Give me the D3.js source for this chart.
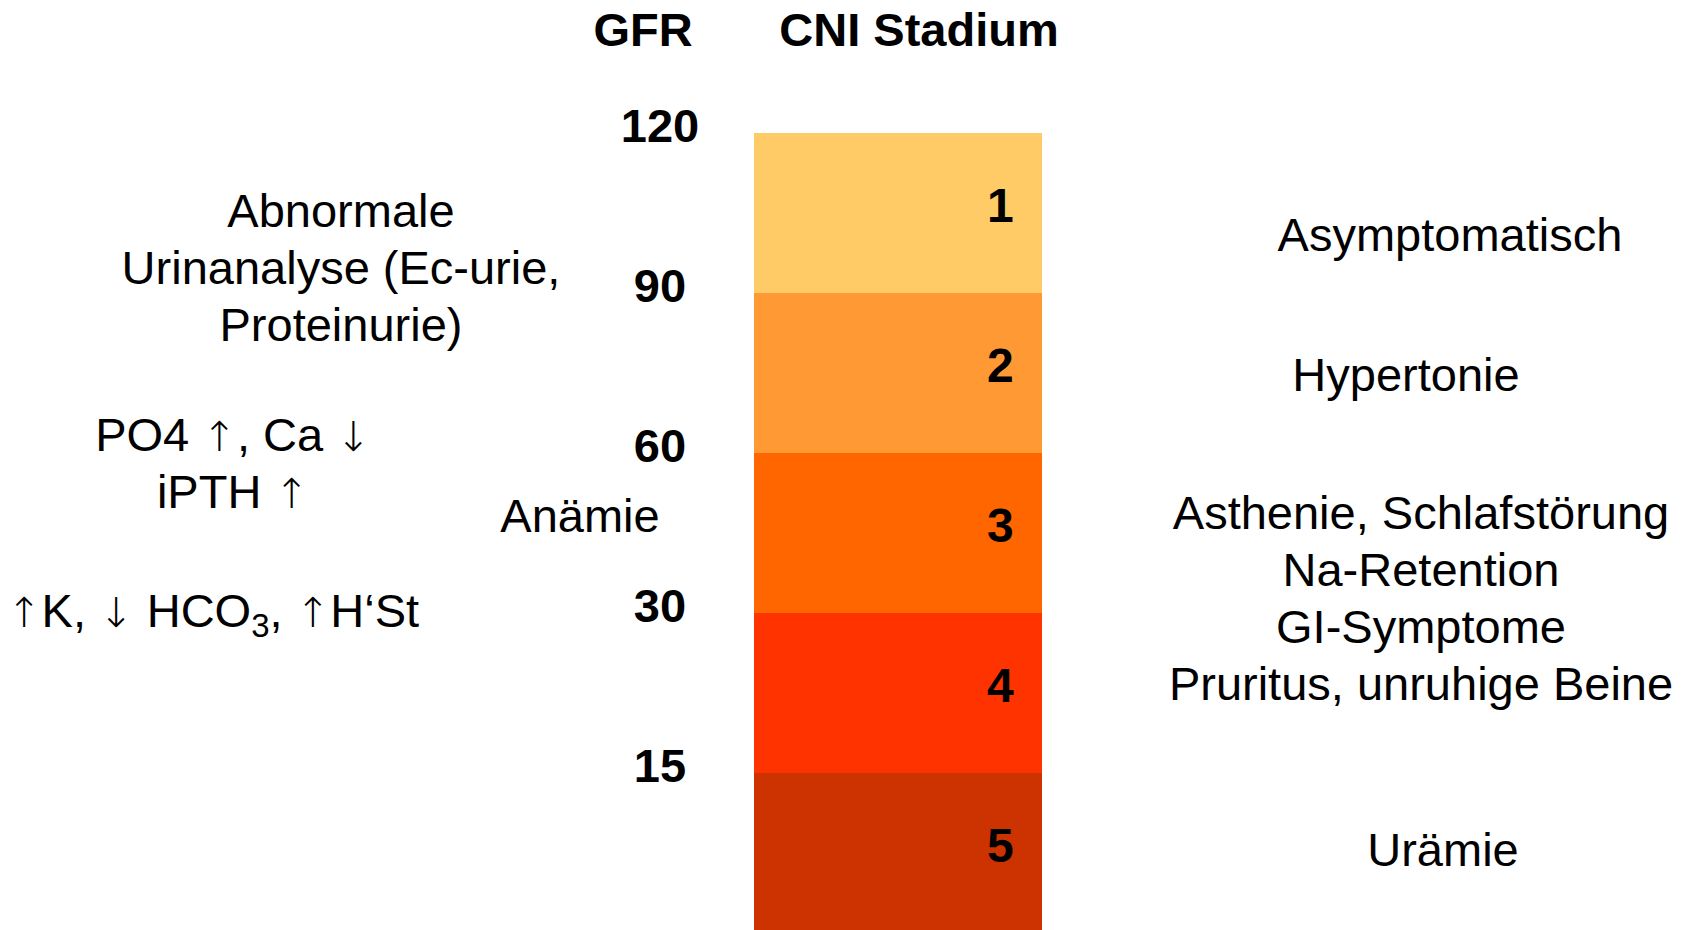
<!DOCTYPE html>
<html>
<head>
<meta charset="utf-8">
<script src="https://cdn.jsdelivr.net/npm/d3@7"></script>
<style>
  html, body { margin: 0; padding: 0; background: #fff; }
  svg { display: block; }
  text { font-family: "Liberation Sans", Arial, Helvetica, sans-serif; fill: #000; }
  tspan.arrow { font-family: "DejaVu Sans", sans-serif; font-weight: 200; }
</style>
</head>
<body>
<script>
// CKD stages (CNI Stadium) with their GFR thresholds and typical findings
const stages = [1, 2, 3, 4, 5];
const gfrTicks = ["120", "90", "60", "30", "15"];
const stageColors = ["#FECB66", "#FF9933", "#FF6600", "#FF3300", "#CC3300"];

// clinical picture shown to the right of the column
const symptomsAsym = ["Asymptomatisch"];
const symptomsHyp = ["Hypertonie"];
const symptomsLate = ["Asthenie, Schlafstörung", "Na-Retention", "GI-Symptome", "Pruritus, unruhige Beine"];
const symptomsUr = ["Urämie"];

// laboratory findings to the left of the column
const labUrine = ["Abnormale", "Urinanalyse (Ec-urie,", "Proteinurie)"];
const labMineral = ["PO4 ↑, Ca ↓", "iPTH ↑"];
const labAnemia = ["Anämie"];
const labAcid = ["↑K, ↓ HCO", "3", ", ↑H‘St"];

const W = 1696, H = 930;
const FS = 47;      // font size
const LH = 57;      // line height

const svg = d3.select("body").append("svg")
  .attr("width", W).attr("height", H);

// stages stacked top to bottom as equal bands
const y = d3.scaleBand().domain(stages).range([133, 933]).paddingInner(0).paddingOuter(0);
const x = d3.scaleBand().domain(["CNI"]).range([754, 1042]).padding(0);
const color = d3.scaleOrdinal().domain(stages).range(stageColors);

// column titles
svg.append("text")
  .attr("x", 643).attr("y", 46)
  .attr("text-anchor", "middle")
  .attr("font-size", FS).attr("font-weight", "bold")
  .text("GFR");
svg.append("text")
  .attr("x", 919).attr("y", 46)
  .attr("text-anchor", "middle")
  .attr("font-size", FS).attr("font-weight", "bold")
  .text("CNI Stadium");

// stage bands
svg.append("g").selectAll("rect")
  .data(stages)
  .join("rect")
  .attr("x", x("CNI"))
  .attr("y", d => y(d))
  .attr("width", x.bandwidth())
  .attr("height", y.bandwidth())
  .attr("fill", d => color(d));

// stage numbers
svg.append("g").selectAll("text")
  .data(stages)
  .join("text")
  .attr("x", x("CNI") + x.bandwidth() * 0.855)
  .attr("y", d => y(d) + y.bandwidth() / 2 + 9)
  .attr("text-anchor", "middle")
  .attr("font-size", FS + 1).attr("font-weight", "bold")
  .text(d => d);

// GFR thresholds at the upper edge of each stage
svg.append("g").selectAll("text")
  .data(stages)
  .join("text")
  .attr("x", 660)
  .attr("y", d => y(d) + 9)
  .attr("text-anchor", "middle")
  .attr("font-size", FS).attr("font-weight", "bold")
  .text((d, i) => gfrTicks[i]);

// append a string to a text node, setting arrow glyphs in their own font
function appendRuns(parent, s) {
  s.split(/([↑↓])/).filter(p => p.length).forEach(p => {
    const ts = parent.append("tspan").text(p);
    if (p === "↑" || p === "↓") {
      ts.attr("class", "arrow").attr("font-size", FS * 0.88);
    }
  });
}

// multi-line centred text block
function block(lines, cx, baseline) {
  const t = svg.append("text")
    .attr("text-anchor", "middle")
    .attr("font-size", FS);
  lines.forEach((s, i) => {
    const line = t.append("tspan").attr("x", cx).attr("y", baseline + i * LH);
    appendRuns(line, s);
  });
  return t;
}

const bh = y.bandwidth();

// right-hand symptoms
block(symptomsAsym, 1450, y(1) + bh * 0.74);
block(symptomsHyp, 1406, y(2) + bh * 0.61);
block(symptomsLate, 1421, y(3) + bh * 0.475);
block(symptomsUr, 1443, y(5) + bh * 0.58);

// left-hand laboratory findings
block(labUrine, 341, y(1) + bh * 0.59);
block(labMineral, 233, y(2) + bh * 0.99);
block(labAnemia, 580, y(3) + bh * 0.495);

// electrolyte / acid-base line with subscript
const el = svg.append("text")
  .attr("x", 213).attr("y", y(4) + 14)
  .attr("text-anchor", "middle")
  .attr("font-size", FS);
appendRuns(el, labAcid[0]);
el.append("tspan").attr("font-size", 33).attr("dy", 10).text(labAcid[1]);
const tail = el.append("tspan").attr("dy", -10);
appendRuns(tail, labAcid[2]);
</script>
</body>
</html>
